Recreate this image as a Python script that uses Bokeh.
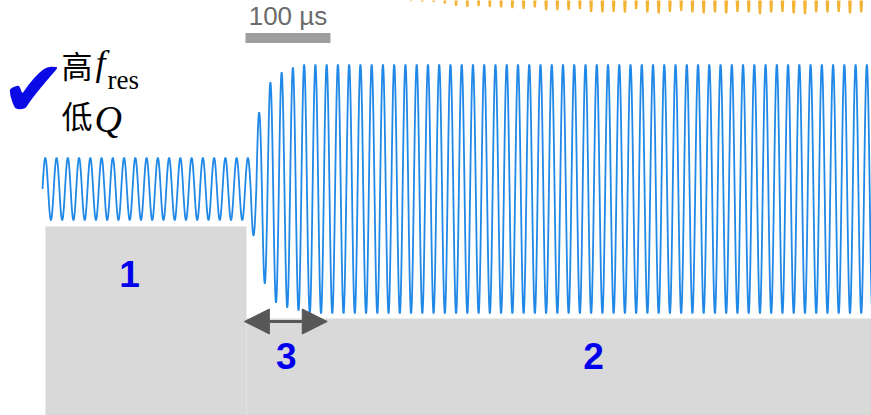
import numpy as np
from bokeh.plotting import figure
from bokeh.models import Range1d, Label, Arrow, NormalHead
from bokeh.embed import file_html
from bokeh.resources import INLINE

# ---------------------------------------------------------------- data
period_us = 13.24                 # oscillation period (µs)
stage1_amp = 31.0                 # response amplitude while drive level 1 is on
stage2_amp = 124.5                # steady response amplitude at drive level 2
ramp_start = 36                   # first half-cycle of the ring-up
ramp_amps = [31.0, 46.5, 76.5, 94.5, 106.5, 113.5, 116.5, 118.5,
             121.5, 121.5, 124.5, 124.5]
n_half_cycles = 148

# neighbouring trace (only its troughs reach into view)
ref_first_cycle = 32
ref_center = 300.0
ref_troughs = [188.3, 187.8, 187.5, 185.8, 183.5, 182.5, 183.2, 182.5,
               181.8, 181.2, 180.5, 181.8, 179.2, 179.2, 179.2, 180.2,
               177.5, 176.8, 177.5, 176.8, 180.2, 176.8, 175.8, 177.5,
               178.5, 176.8, 175.8, 176.8, 175.8, 177.5, 176.8, 175.2,
               176.8, 177.5, 175.8, 175.2, 176.8, 176.8, 177.5, 175.8,
               176.8]

# drive levels (step) and switching time
drive_start_us = 3.5
drive_switch_us = 240.0
drive_end_us = 1000.0
drive_levels = [-37.5, -129.5]
drive_floor = -300.0

scale_us = 100.0
stage_labels = ["1", "3", "2"]

# ---------------------------------------------------------------- traces
half = period_us / 2.0
amps = np.array([stage1_amp] * ramp_start + ramp_amps +
                [stage2_amp] * (n_half_cycles - ramp_start - len(ramp_amps)))
t = np.linspace(0.0, n_half_cycles * half, n_half_cycles * 48 + 1)
h = np.minimum((t // half).astype(int), n_half_cycles - 1)
y = amps[h] * np.sin(2 * np.pi * t / period_us)

ref_amps = np.repeat(ref_center - np.array(ref_troughs), 2)
ref_amps = np.append(ref_amps, ref_amps[-1])
h0 = 2 * ref_first_cycle
t_ref = np.linspace(h0 * half, (h0 + len(ref_amps)) * half, len(ref_amps) * 48 + 1)
h_ref = np.minimum(((t_ref - h0 * half) // half).astype(int), len(ref_amps) - 1)
y_ref = ref_center + ref_amps[h_ref] * np.sin(2 * np.pi * t_ref / period_us)

# ---------------------------------------------------------------- figure
p = figure(width=871, height=415, output_backend="svg", toolbar_location=None,
           x_range=Range1d(-49.41, 975.29), y_range=Range1d(-226.5, 188.5),
           x_axis_location=None, y_axis_location=None, min_border=0)
p.grid.visible = False
p.outline_line_color = None
p.background_fill_color = "white"
p.border_fill_color = "white"

# drive step
p.quad(left=[drive_start_us, drive_switch_us], right=[drive_switch_us, drive_end_us],
       top=drive_levels, bottom=[drive_floor, drive_floor],
       fill_color="#d9d9d9", line_color=None)

# traces
p.line(t_ref, y_ref, line_color="#f5b335", line_width=2)
p.line(t, y, line_color="#2088e6", line_width=1.8)

# scale bar
scale_left = 238.8
p.quad(left=[scale_left], right=[scale_left + scale_us], top=[156.0], bottom=[146.0],
       fill_color="#9e9e9e", line_color=None)
p.add_layout(Label(x=scale_left + scale_us / 2, y=173.0, text="100 µs",
                   text_font="Liberation Sans", text_font_size="26px",
                   text_color="#6b6b6b", text_align="center", text_baseline="middle"))

# ring-up interval arrow
head_kw = dict(size=25, fill_color="#575757", line_color="#575757", line_width=1)
p.add_layout(Arrow(start=NormalHead(**head_kw), end=NormalHead(**head_kw),
                   x_start=237.5, y_start=-132.5, x_end=335.0, y_end=-132.5,
                   line_color="#575757", line_width=3))

# stage numbers
for txt, xx, yy in zip(stage_labels, [102.4, 286.7, 648.2], [-84.8, -166.5, -166.5]):
    p.add_layout(Label(x=xx, y=yy, text=txt, text_font="Liberation Sans",
                       text_font_style="bold", text_font_size="37px",
                       text_color="#0000ee", text_align="center",
                       text_baseline="middle"))

# annotation: high f_res, low Q
p.add_layout(Label(x=-49.1, y=100.5, text="✔", text_font="DejaVu Sans",
                   text_font_size="78px", text_color="#0a0ae6",
                   text_align="left", text_baseline="middle"))
p.add_layout(Label(x=22.4, y=124.5, text="高", text_font="Noto Sans CJK SC",
                   text_font_size="31px", text_color="black", text_baseline="alphabetic"))
p.add_layout(Label(x=62.4, y=126.5, text="f", text_font="Liberation Serif",
                   text_font_style="italic", text_font_size="36px",
                   text_color="black", text_baseline="alphabetic"))
p.add_layout(Label(x=76.5, y=109.0, text="res", text_font="Liberation Serif",
                   text_font_size="27px", text_color="black", text_baseline="alphabetic"))
p.add_layout(Label(x=22.4, y=74.5, text="低", text_font="Noto Sans CJK SC",
                   text_font_size="31px", text_color="black", text_baseline="alphabetic"))
p.add_layout(Label(x=61.2, y=70.5, text="Q", text_font="Liberation Serif",
                   text_font_style="italic", text_font_size="38px",
                   text_color="black", text_baseline="alphabetic"))

open("out.html", "w").write(file_html(p, INLINE))
